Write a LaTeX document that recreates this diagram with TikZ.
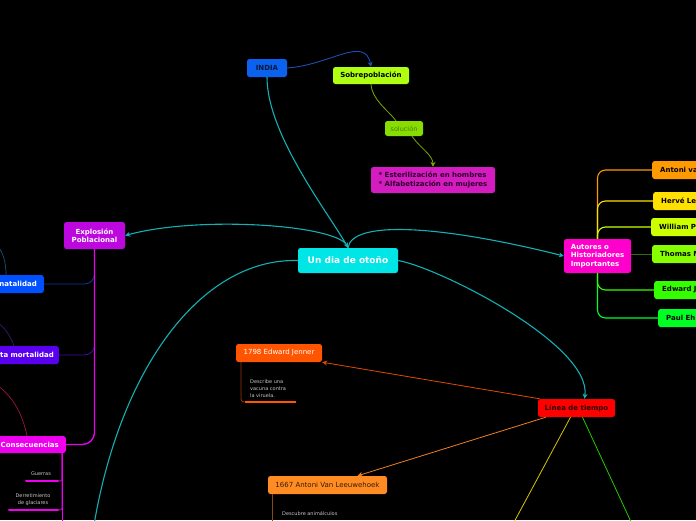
\documentclass[tikz,border=0pt]{standalone}
\usepackage{fontspec}
\setmainfont{DejaVu Sans}
\usetikzlibrary{arrows.meta,calc}
\definecolor{cIndia}{HTML}{0A62EE}
\definecolor{tIndia}{HTML}{081838}
\definecolor{cSob}{HTML}{B0FF10}
\definecolor{cSol}{HTML}{88DD00}
\definecolor{tSol}{HTML}{4A8000}
\definecolor{cEst}{HTML}{D41CC0}
\definecolor{tEst}{HTML}{2A0028}
\definecolor{cCent}{HTML}{00E5E5}
\definecolor{cExpl}{HTML}{BC08DE}
\definecolor{cNat}{HTML}{0050FF}
\definecolor{cMort}{HTML}{5A00F0}
\definecolor{cCons}{HTML}{EE00EE}
\definecolor{cAut}{HTML}{FF00CC}
\definecolor{cR1}{HTML}{FF9900}
\definecolor{cR2}{HTML}{FFE000}
\definecolor{cR3}{HTML}{CCFF00}
\definecolor{cR4}{HTML}{88FF00}
\definecolor{cR5}{HTML}{33FF00}
\definecolor{cR6}{HTML}{00FF22}
\definecolor{lR4}{HTML}{2D6A10}
\definecolor{cLin}{HTML}{FF0000}
\definecolor{tLin}{HTML}{2A0000}
\definecolor{cJen}{HTML}{FF5500}
\definecolor{cLeeu}{HTML}{FF8C22}
\definecolor{tLeeu}{HTML}{3A1A00}
\definecolor{linkcyan}{HTML}{12B0B4}
\definecolor{lIndia}{HTML}{1A50B0}
\definecolor{lSob}{HTML}{78AA00}
\definecolor{lNat}{HTML}{0A3AA0}
\definecolor{lMort}{HTML}{3A10A0}
\definecolor{descgray}{HTML}{C8C8C8}
\definecolor{lJen}{HTML}{E04A00}
\definecolor{lLeeu}{HTML}{F08020}
\definecolor{lYel}{HTML}{D8C400}
\definecolor{lGrn}{HTML}{22CC00}
\definecolor{offTeal}{HTML}{1A5070}
\definecolor{offPurp}{HTML}{3A1870}
\definecolor{offCrim}{HTML}{A0104A}
\tikzset{
  bx/.style={rounded corners=2.5pt, inner sep=0pt, align=center, font=\bfseries\fontsize{7}{8.5}\selectfont},
  lft/.style={bx, anchor=east, text width=60pt, align=right, inner xsep=7pt, minimum height=18pt, text=white},
  rgt/.style={bx, anchor=west, text width=70pt, align=left, inner xsep=8pt, minimum height=18pt, text=black},
  desc/.style={text=descgray, font=\fontsize{5}{7}\selectfont, inner sep=0pt},
  cyanline/.style={draw=linkcyan, line width=1.1pt},
  arr/.style={-{Stealth[length=5pt,width=5pt]}}
}
\begin{document}
\begin{tikzpicture}[x=1pt,y=-1pt]
\useasboundingbox (0,0) rectangle (696,520);
\fill[black] (0,0) rectangle (696,520);
\clip (0,0) rectangle (696,520);

% nodes
\node[bx, fill=cIndia, text=tIndia, minimum width=40pt, minimum height=18pt] (india) at (267,68) {INDIA};
\node[bx, fill=cSob, text=black, minimum width=76pt, minimum height=17pt] (sob) at (371,75.5) {Sobrepoblación};
\node[bx, fill=cSol, text=tSol, font=\fontsize{6.5}{8}\selectfont, minimum width=38pt, minimum height=15pt] (sol) at (404,128.5) {solución};
\node[bx, fill=cEst, text=tEst, minimum width=124pt, minimum height=26pt, align=left, font=\bfseries\fontsize{7}{9}\selectfont] (est) at (433,180) {* Esterilización en hombres\\* Alfabetización en mujeres};
\node[bx, fill=cCent, text=white, font=\bfseries\fontsize{9}{11}\selectfont, minimum width=100pt, minimum height=25pt] (cent) at (348,260.5) {Un dia de otoño};
\node[bx, fill=cExpl, text=white, minimum width=61pt, minimum height=27pt] (expl) at (94.5,235.5) {Explosión\\Poblacional};
\node[lft, fill=cNat] (nat) at (44,284) {natalidad};
\node[lft, fill=cMort, inner xsep=5pt] (mort) at (59,355) {ta mortalidad};
\node[lft, fill=cCons, minimum height=17pt] (cons) at (66,444.5) {Consecuencias};
\node[bx, fill=cAut, text=white, minimum width=67pt, minimum height=34pt, align=left] (aut) at (597.5,256) {Autores o\\Historiadores\\Importantes};
\node[rgt, fill=cR1] (r1) at (652,170) {Antoni va};
\node[rgt, fill=cR2] (r2) at (653,201) {Hervé Le};
\node[rgt, fill=cR3] (r3) at (651,227) {William P};
\node[rgt, fill=cR4] (r4) at (652,254) {Thomas M};
\node[rgt, fill=cR5] (r5) at (654,290) {Edward J};
\node[rgt, fill=cR6] (r6) at (658,318) {Paul Eh};
\node[bx, fill=cLin, text=tLin, minimum width=77pt, minimum height=18pt] (lin) at (576.5,408) {Línea de tiempo};
\node[bx, fill=cJen, text=white, font=\fontsize{7}{8.5}\selectfont, minimum width=86pt, minimum height=18pt] (jen) at (279,353) {1798 Edward Jenner};
\node[bx, fill=cLeeu, text=tLeeu, font=\fontsize{7}{8.5}\selectfont, minimum width=119pt, minimum height=18pt] (leeu) at (327.5,485) {1667 Antoni Van Leeuwehoek};

% descriptions
\node[desc, anchor=north west, align=left] (jdesc) at (250,379.5) {Describe una\\vacuna contra\\la viruela.};
\node[desc, anchor=north west] (ldesc) at (282,511.5) {Descubre animálculos};
\node[desc] (guer) at (41,474) {Guerras};
\node[desc, align=center] (derr) at (33,499.5) {Derretimiento\\de glaciares};
\coordinate (jl1) at (245,402); \coordinate (jl2) at (296,402);
\coordinate (gl1) at (26,481); \coordinate (gl2) at (58,481);
\coordinate (dl1) at (9,510); \coordinate (dl2) at (58,510);
\coordinate (offbl) at (94,525);
\coordinate (offlb) at (272,525);
\coordinate (offcons) at (62,525);
\coordinate (offnat) at (-3,245);
\coordinate (offmort) at (-3,322);
\coordinate (offcr) at (-3,385);
\coordinate (offyel) at (513,524);
\coordinate (offgrn) at (632,524);

% cyan links from the central node
\draw[cyanline, arr] (india.south) .. controls (267,135) and (330,215) .. (cent.north);
\draw[cyanline, arr] (cent.north) .. controls (345,225) and (200,215) .. (expl.east);
\draw[cyanline, arr] (cent.north) .. controls (352,220) and (440,225) .. (aut.west);
\draw[cyanline, arr] (cent.east) .. controls (440,268) and (592,345) .. ([xshift=8pt]lin.north);
\draw[cyanline] (cent.west) .. controls (200,258) and (120,370) .. (offbl);

% INDIA branch
\draw[draw=lIndia, line width=0.9pt, arr] (india.east) .. controls (330,65) and (365,35) .. (sob.north);
\draw[draw=lSob, line width=0.8pt] (sob.south) .. controls (372,100) and (388,110) .. ([xshift=-8pt]sol.north);
\draw[draw=lSob, line width=0.8pt, arr] ([xshift=8pt]sol.south) .. controls (420,148) and (433,155) .. (est.north);

% Explosion tree
\draw[draw=lNat, line width=0.8pt, rounded corners=10pt] (expl.south) |- (nat.east);
\draw[draw=lMort, line width=0.8pt, rounded corners=10pt] (expl.south) |- (mort.east);
\draw[draw=cCons, line width=1.3pt, rounded corners=12pt] (expl.south) |- (cons.east);

% off-page links on the left
\draw[draw=offTeal, line width=0.7pt] ([xshift=-38pt]nat.north east) .. controls (6,262) and (3,252) .. (offnat);
\draw[draw=offPurp, line width=0.7pt] ([xshift=-45pt]mort.north east) .. controls (10,335) and (5,328) .. (offmort);
\draw[draw=offCrim, line width=0.7pt] ([xshift=-39pt]cons.north east) .. controls (22,412) and (12,396) .. (offcr);

% Consecuencias children
\draw[draw=cCons, line width=1pt] ([xshift=-4pt]cons.south east) -- (offcons);
\draw[draw=cCons, line width=0.6pt, rounded corners=2pt] ([xshift=-4pt]cons.south east) |- (gl2);
\draw[draw=cCons, line width=0.6pt, rounded corners=2pt] ([xshift=-4pt]cons.south east) |- (dl2);
\draw[draw=cCons, line width=2pt, line cap=round] (gl1) -- (gl2);
\draw[draw=cCons, line width=2pt, line cap=round] (dl1) -- (dl2);

% Autores tree
\draw[draw=cR1, line width=1.1pt, rounded corners=8pt] (aut.north) |- (r1.west);
\draw[draw=cR2, line width=1.1pt, rounded corners=8pt] (aut.north) |- (r2.west);
\draw[draw=cR3, line width=1.1pt, rounded corners=8pt] (aut.north) |- (r3.west);
\draw[draw=lR4, line width=1pt] (aut.east |- r4.west) -- (r4.west);
\draw[draw=cR6, line width=1.1pt, rounded corners=8pt] (aut.south) |- (r6.west);
\draw[draw=cR5, line width=1.1pt, rounded corners=8pt] (aut.south) |- (r5.west);

% Timeline
\draw[draw=lJen, line width=0.8pt, arr] ([xshift=2pt]lin.north west) -- (jen.south east);
\draw[draw=lLeeu, line width=0.8pt, arr] ([xshift=8pt]lin.south west) -- ([xshift=30pt]leeu.north);
\draw[draw=lYel, line width=0.8pt] ([xshift=-6pt]lin.south) -- (offyel);
\draw[draw=lGrn, line width=0.8pt] ([xshift=6pt]lin.south) -- (offgrn);
\draw[draw=lJen!70!black, line width=0.8pt, rounded corners=3pt] ([xshift=-38pt]jen.south) |- (jl1);
\draw[draw=cJen, line width=1.8pt] (jl1) -- (jl2);
\draw[draw=tLeeu!60!cLeeu, line width=0.8pt] ([xshift=-55.5pt]leeu.south) -- (offlb);
\end{tikzpicture}
\end{document}
